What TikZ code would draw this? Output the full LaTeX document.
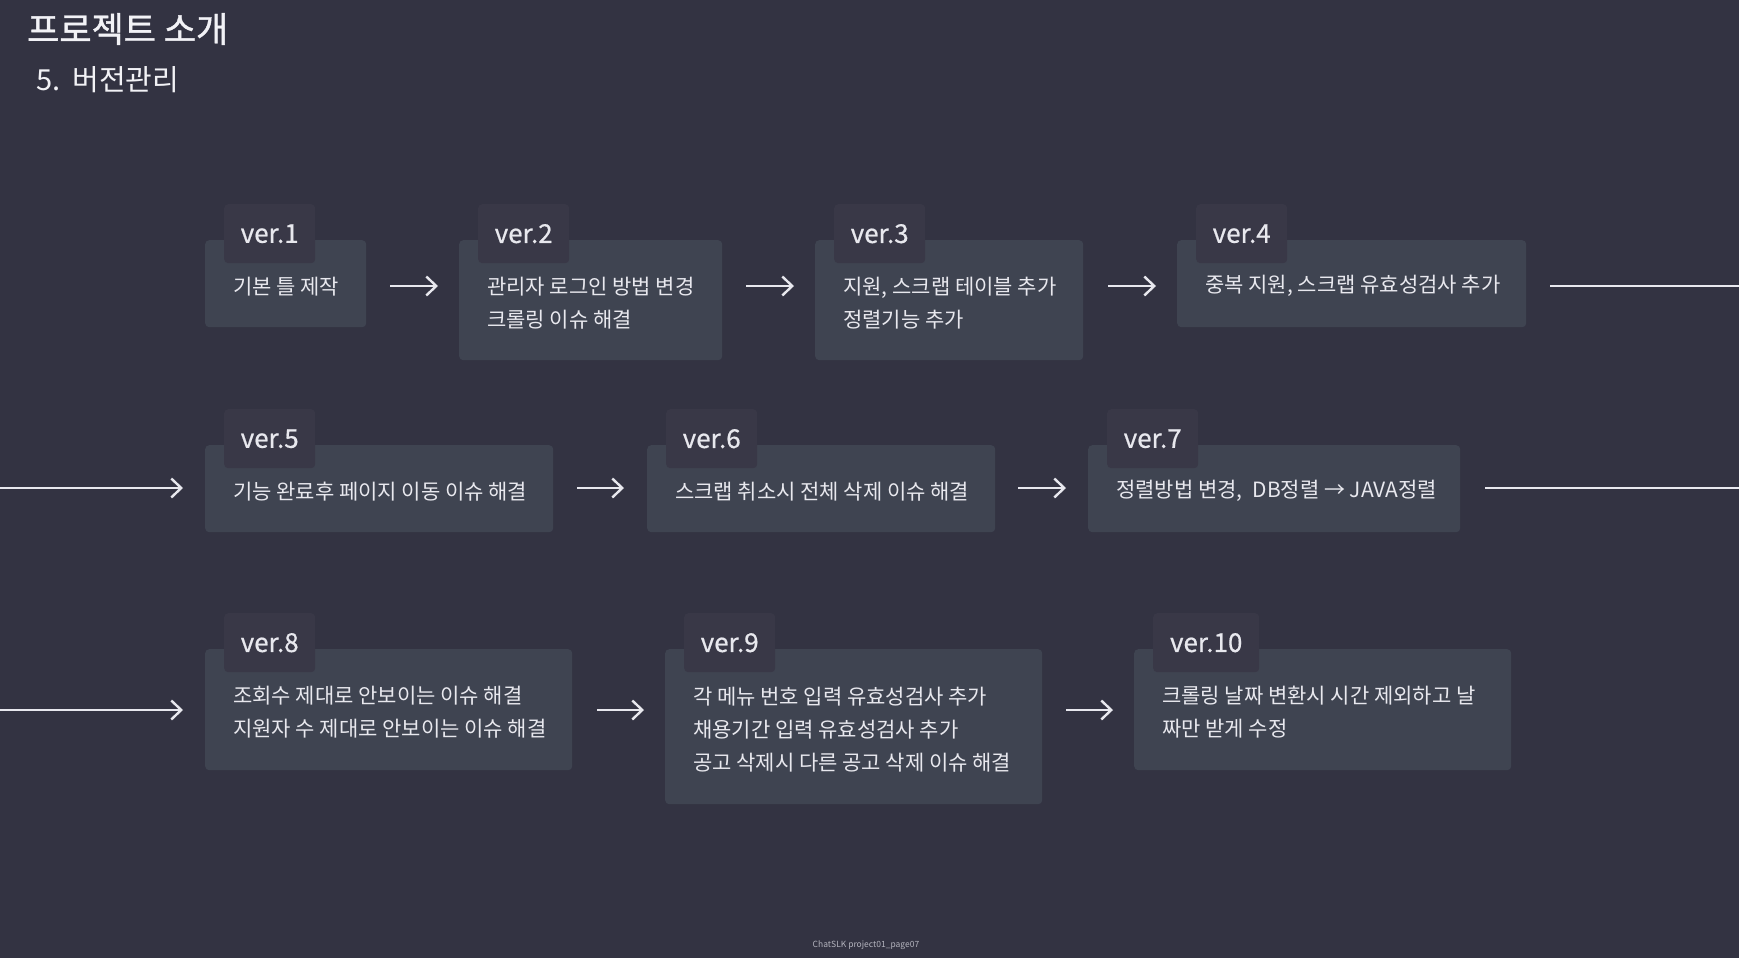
\documentclass[tikz,border=0pt]{standalone}
\usepackage{fontspec}
\setmainfont{Noto Sans CJK KR}[RawFeature=+palt]
\newfontfamily\titlefont{Noto Sans CJK KR}[RawFeature=+palt, FakeBold=1.2]
\newfontfamily\tabfont{Noto Sans CJK KR}[RawFeature=+palt, FakeBold=0.6]
\usetikzlibrary{arrows.meta,calc}
\definecolor{bg}{HTML}{333342}
\definecolor{boxc}{HTML}{3F4451}
\definecolor{tabc}{HTML}{393847}
\definecolor{fg}{HTML}{E8E8EE}
\definecolor{titlec}{HTML}{F2F2F6}
\definecolor{foot}{HTML}{B4B4BE}
\newcommand\mkver[8]{%
  \node[verbox, minimum width=#4pt, minimum height=#5pt] (b#1) at (#2,#3) {};
  \node[vertab, minimum width=#6pt] (t#1) at ($(b#1.north west)+(19,-36)$) {#7};
  \node[vertext] (x#1) at ([xshift=28pt,yshift=-2.5pt]b#1.west) {#8};
}
\begin{document}
\begin{tikzpicture}[x=1pt,y=-1pt,
  verbox/.style={fill=boxc, rounded corners=4pt, anchor=north west, inner sep=0pt},
  vertab/.style={fill=tabc, rounded corners=4pt, anchor=north west, inner sep=0pt, minimum height=59pt, text=fg, font=\tabfont\fontsize{26}{30}\selectfont},
  vertext/.style={anchor=west, inner sep=0pt, align=left, text=fg, font=\fontsize{21}{33}\selectfont},
  arr/.style={draw=fg, line width=2.4pt, -{Straight Barb[length=10pt,width=19pt]}},
  wraplink/.style={draw=fg, line width=2.4pt},
]
\useasboundingbox (0,0) rectangle (1739,958);
\fill[bg] (0,0) rectangle (1739,958);

\node[anchor=west, inner sep=0pt, text=titlec, font=\titlefont\fontsize{35}{40}\selectfont] (title) at (27,29) {프로젝트 소개};
\node[anchor=west, inner sep=0pt, text=titlec, font=\fontsize{29}{34}\selectfont] (subtitle) at (36,80) {5.\hspace{12pt}버전관리};

\mkver{1}{205}{240}{161}{87}{91}{ver.1}{기본 틀 제작}
\mkver{2}{459}{240}{263}{120}{91}{ver.2}{관리자 로그인 방법 변경\\크롤링 이슈 해결}
\mkver{3}{815}{240}{268}{120}{91}{ver.3}{지원, 스크랩 테이블 추가\\정렬기능 추가}
\mkver{4}{1177}{240}{349}{87}{91}{ver.4}{중복 지원, 스크랩 유효성검사 추가}
\mkver{5}{205}{445}{348}{87}{91}{ver.5}{기능 완료후 페이지 이동 이슈 해결}
\mkver{6}{647}{445}{348}{87}{91}{ver.6}{스크랩 취소시 전체 삭제 이슈 해결}
\mkver{7}{1088}{445}{372}{87}{91}{ver.7}{정렬방법 변경,\hspace{10pt}DB정렬 → JAVA정렬}
\mkver{8}{205}{649}{367}{121}{91}{ver.8}{조회수 제대로 안보이는 이슈 해결\\지원자 수 제대로 안보이는 이슈 해결}
\mkver{9}{665}{649}{377}{155}{91}{ver.9}{각 메뉴 번호 입력 유효성검사 추가\\채용기간 입력 유효성검사 추가\\공고 삭제시 다른 공고 삭제 이슈 해결}
\mkver{10}{1134}{649}{377}{121}{106}{ver.10}{크롤링 날짜 변환시 시간 제외하고 날\\짜만 받게 수정}

% row 1
\draw[arr] ([xshift=24pt,yshift=-46pt]b1.north east) -- ([xshift=-21pt,yshift=-46pt]b2.north west);
\draw[arr] ([xshift=24pt,yshift=-46pt]b2.north east) -- ([xshift=-21pt,yshift=-46pt]b3.north west);
\draw[arr] ([xshift=25pt,yshift=-46pt]b3.north east) -- ([xshift=-21pt,yshift=-46pt]b4.north west);
\coordinate (r1end) at (1739,286);
\draw[wraplink] ([xshift=24pt,yshift=-46pt]b4.north east) -- (r1end);
% row 2
\coordinate (r2start) at (0,488);
\draw[arr] (r2start) -- ([xshift=-22pt,yshift=-43pt]b5.north west);
\draw[arr] ([xshift=24pt,yshift=-43pt]b5.north east) -- ([xshift=-23pt,yshift=-43pt]b6.north west);
\draw[arr] ([xshift=23pt,yshift=-43pt]b6.north east) -- ([xshift=-22pt,yshift=-43pt]b7.north west);
\coordinate (r2end) at (1739,488);
\draw[wraplink] ([xshift=25pt,yshift=-43pt]b7.north east) -- (r2end);
% row 3
\coordinate (r3start) at (0,710);
\draw[arr] (r3start) -- ([xshift=-22pt,yshift=-61pt]b8.north west);
\draw[arr] ([xshift=25pt,yshift=-61pt]b8.north east) -- ([xshift=-21pt,yshift=-61pt]b9.north west);
\draw[arr] ([xshift=24pt,yshift=-61pt]b9.north east) -- ([xshift=-21pt,yshift=-61pt]b10.north west);

\node[inner sep=0pt, text=foot, font=\fontsize{8.5}{10}\selectfont] (footer) at (866,945) {ChatSLK project01\_page07};
\end{tikzpicture}
\end{document}
